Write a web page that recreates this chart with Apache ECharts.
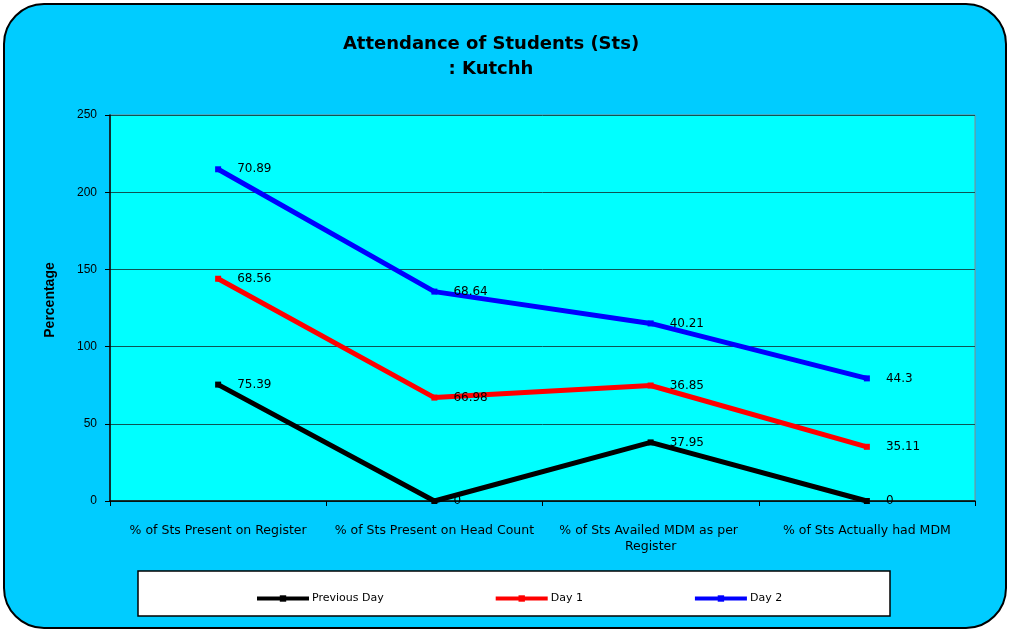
<!DOCTYPE html>
<html>
<head>
<meta charset="utf-8">
<script src="https://cdn.jsdelivr.net/npm/echarts@6/dist/echarts.min.js"></script>
<style>
html,body{margin:0;padding:0;background:#fff;}
#chart{width:1012px;height:630px;}
</style>
</head>
<body>
<div id="chart"></div>
<script>
const categories = ['% of Sts Present on Register', '% of Sts Present on Head Count', '% of Sts Availed MDM as per Register', '% of Sts Actually had MDM'];
const previousDay = [75.39, 0, 37.95, 0];
const day1 = [68.56, 66.98, 36.85, 35.11];
const day2 = [70.89, 68.64, 40.21, 44.3];
const yTicks = { min: 0, max: 250, interval: 50 };

const FONT = 'Liberation Sans, Arial, sans-serif';
const WIDE = 'DejaVu Sans, sans-serif';
const chart = echarts.init(document.getElementById('chart'));

function mkSeries(name, data, color) {
  return {
    name: name,
    type: 'line',
    stack: 'total',
    data: data,
    symbol: 'rect',
    symbolSize: 6,
    lineStyle: { width: 5, color: color },
    itemStyle: { color: color },
    label: { show: true, position: 'right', distance: 16, color: '#000', fontFamily: WIDE, fontSize: 12 },
    emphasis: { disabled: true },
    animation: false
  };
}

chart.setOption({
  animation: false,
  textStyle: { fontFamily: FONT },
  graphic: [
    { type: 'rect', z: -10, shape: { x: 4, y: 4, width: 1002, height: 624, r: 40 },
      style: { fill: '#00CCFF', stroke: '#000', lineWidth: 2 } },
    { type: 'rect', z: -5, shape: { x: 138, y: 571, width: 752, height: 45 },
      style: { fill: '#fff', stroke: '#000', lineWidth: 1.5 } },
    { type: 'text', z: 10, x: 50, y: 300, rotation: Math.PI / 2,
      style: { text: 'Percentage', align: 'center', verticalAlign: 'middle',
        fontFamily: FONT, fontSize: 14, fontWeight: 'bold', fill: '#000' } }
  ],
  title: {
    text: 'Attendance of Students (Sts)\n: Kutchh',
    left: 486, top: 27, textAlign: 'center',
    textStyle: { fontFamily: WIDE, fontSize: 18, fontWeight: 'bold', color: '#000', lineHeight: 25 }
  },
  legend: {
    left: 250, top: 588,
    itemWidth: 52, itemHeight: 8, itemGap: 110,
    lineStyle: { width: 4 },
    textStyle: { fontFamily: WIDE, fontSize: 11, color: '#000', padding: [0, 0, 0, -2] },
    data: ['Previous Day', 'Day 1', 'Day 2']
  },
  grid: {
    left: 110, right: 37, top: 115, bottom: 129,
    show: true, backgroundColor: '#00FFFF', borderColor: '#888', borderWidth: 1
  },
  xAxis: {
    type: 'category',
    data: categories,
    boundaryGap: true,
    axisLine: { lineStyle: { color: '#000', width: 1.5 } },
    axisTick: { show: true, lineStyle: { color: '#000' }, length: 5 },
    axisLabel: { interval: 0, color: '#000', fontFamily: WIDE, fontSize: 12.5, margin: 22,
      width: 210, overflow: 'break', lineHeight: 16 }
  },
  yAxis: {
    type: 'value',
    min: yTicks.min, max: yTicks.max, interval: yTicks.interval,
    axisLine: { show: true, lineStyle: { color: '#000', width: 1.5 } },
    axisTick: { show: true, length: 5, lineStyle: { color: '#000' } },
    axisLabel: { color: '#000', fontFamily: FONT, fontSize: 12, margin: 13 },
    splitLine: { show: true, lineStyle: { color: '#0d5555', width: 1 } }
  },
  series: [
    mkSeries('Previous Day', previousDay, '#000000'),
    mkSeries('Day 1', day1, '#FF0000'),
    mkSeries('Day 2', day2, '#0000FF')
  ]
});
</script>
</body>
</html>
